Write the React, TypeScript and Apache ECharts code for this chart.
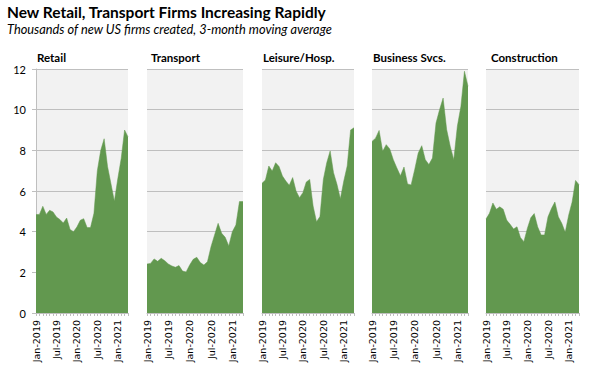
import React, { useEffect, useRef } from "react";
import * as echarts from "echarts";

const categories = [
  "Jan-2019", "Feb-2019", "Mar-2019", "Apr-2019", "May-2019", "Jun-2019",
  "Jul-2019", "Aug-2019", "Sep-2019", "Oct-2019", "Nov-2019", "Dec-2019",
  "Jan-2020", "Feb-2020", "Mar-2020", "Apr-2020", "May-2020", "Jun-2020",
  "Jul-2020", "Aug-2020", "Sep-2020", "Oct-2020", "Nov-2020", "Dec-2020",
  "Jan-2021", "Feb-2021", "Mar-2021", "Apr-2021",
];

const retail = [4.84, 4.85, 5.25, 4.85, 5.05, 4.97, 4.72, 4.6, 4.43, 4.67, 4.11, 4.0, 4.23, 4.56, 4.64, 4.2, 4.2, 4.9, 7.0, 8.0, 8.57, 7.2, 6.36, 5.5, 6.6, 7.6, 9.0, 8.66];
const transport = [2.41, 2.44, 2.66, 2.54, 2.69, 2.57, 2.41, 2.31, 2.25, 2.33, 2.06, 2.02, 2.36, 2.64, 2.74, 2.48, 2.36, 2.52, 3.26, 3.84, 4.41, 3.92, 3.72, 3.3, 4.0, 4.33, 5.48, 5.48];
const leisure = [6.38, 6.54, 7.23, 6.98, 7.39, 7.2, 6.74, 6.49, 6.28, 6.66, 6.0, 5.67, 5.92, 6.44, 6.57, 5.26, 4.49, 4.74, 6.57, 7.39, 7.97, 6.9, 6.33, 5.62, 6.49, 7.23, 9.0, 9.11];
const business = [8.44, 8.6, 8.98, 7.95, 8.28, 8.07, 7.54, 7.13, 6.75, 7.18, 6.35, 6.3, 7.05, 7.87, 8.23, 7.54, 7.3, 7.62, 9.34, 10.0, 10.57, 9.02, 8.2, 7.54, 9.18, 10.16, 11.89, 11.15];
const construction = [4.62, 4.9, 5.41, 5.1, 5.22, 5.1, 4.57, 4.36, 4.13, 4.24, 3.71, 3.51, 4.16, 4.68, 4.89, 4.24, 3.84, 3.84, 4.73, 5.14, 5.46, 4.73, 4.41, 3.97, 4.81, 5.46, 6.52, 6.31];

const panelNames = ["Retail", "Transport", "Leisure/Hosp.", "Business Svcs.", "Construction"];
const panelSeries = [retail, transport, leisure, business, construction];

const yTicks = [0, 2, 4, 6, 8, 10, 12];

const titleText = "New Retail, Transport Firms Increasing Rapidly";
const subtitleText = "Thousands of new US firms created, 3-month moving average";

const gridBoxes = [
  { left: 36, width: 92 },
  { left: 147, width: 96 },
  { left: 262, width: 92 },
  { left: 372, width: 96 },
  { left: 486, width: 93 },
];
const titleX = [37, 151, 263, 373, 491];

const GREEN = "#62984f";
const GRID_LINE = "#bfbfbf";
const FONT = "Lato, 'Open Sans', sans-serif";
const TICK_FONT = "'DejaVu Sans', sans-serif";

export default function App() {
  const ref = useRef<HTMLDivElement>(null);
  useEffect(() => {
    if (!ref.current) return;
    const chart = echarts.init(ref.current, undefined, { renderer: "svg" });
    const top = 69;
    const height = 244;
    const grids = gridBoxes.map((g) => ({
      left: g.left,
      width: g.width,
      top,
      height,
      show: true,
      backgroundColor: "#f2f2f2",
      borderWidth: 0,
      containLabel: false,
    }));
    const xAxes = gridBoxes.map((_, i) => ({
      type: "category",
      gridIndex: i,
      data: categories,
      boundaryGap: false,
      axisLine: { show: true, lineStyle: { color: GRID_LINE, width: 1 } },
      axisTick: { show: true, interval: 0, length: 3, lineStyle: { color: GRID_LINE } },
      axisLabel: {
        interval: 5,
        rotate: 90,
        fontSize: 9.5,
        fontFamily: TICK_FONT,
        color: "#000",
        margin: 7,
      },
      splitLine: { show: false },
    }));
    const yAxes = gridBoxes.map((_, i) => ({
      type: "value",
      gridIndex: i,
      min: yTicks[0],
      max: yTicks[yTicks.length - 1],
      interval: 2,
      axisLine: { show: i === 0, lineStyle: { color: GRID_LINE } },
      axisTick: { show: i === 0, length: 4, lineStyle: { color: GRID_LINE } },
      axisLabel: {
        show: i === 0,
        fontSize: 11,
        fontFamily: FONT,
        color: "#000",
        margin: 10,
      },
      splitLine: { show: true, lineStyle: { color: GRID_LINE, width: 1 } },
    }));
    const series = panelSeries.map((d, i) => ({
      type: "line",
      name: panelNames[i],
      xAxisIndex: i,
      yAxisIndex: i,
      data: d,
      symbol: "none",
      lineStyle: { width: 0.5, color: GREEN },
      areaStyle: { color: GREEN, opacity: 1 },
    }));
    const graphics: any[] = [
      {
        type: "text",
        left: 7,
        top: 4,
        style: {
          text: titleText,
          font: `bold 15.5px ${FONT}`,
          fill: "#000",
        },
      },
      {
        type: "text",
        left: 7,
        top: 22,
        style: {
          text: subtitleText,
          font: `italic 12.8px ${FONT}`,
          fill: "#000",
        },
      },
      ...panelNames.map((n, i) => ({
        type: "text",
        left: titleX[i],
        top: 51,
        style: { text: n, font: `bold 11.5px ${FONT}`, fill: "#000" },
      })),
    ];
    chart.setOption({
      animation: false,
      backgroundColor: "#fff",
      grid: grids,
      xAxis: xAxes,
      yAxis: yAxes,
      series,
      graphic: graphics,
    });
    return () => chart.dispose();
  }, []);
  return (
    <div
      ref={ref}
      style={{ position: "fixed", left: 0, top: 0, width: 591, height: 375 }}
    />
  );
}
